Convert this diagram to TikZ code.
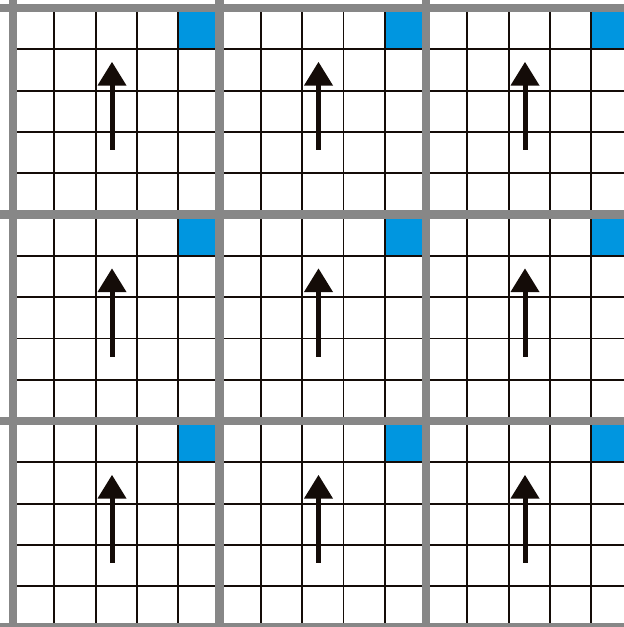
\documentclass[tikz,border=0pt]{standalone}
\definecolor{gridgray}{HTML}{878787}
\definecolor{cellblue}{HTML}{0096E0}
\definecolor{ink}{HTML}{140C08}
\tikzset{
  cellline/.style={draw=ink, line width=1.8pt},
  blockline/.style={draw=gridgray, line width=8.5pt},
  arrowink/.style={fill=ink},
  shaftline/.style={draw=ink, line width=5pt}
}
\begin{document}
\begin{tikzpicture}[x=1pt,y=-1pt]
\useasboundingbox (0,0) rectangle (624,627);
\clip (0,0) rectangle (624,627);
\fill[white] (0,0) rectangle (624,627);
\foreach \i in {0,1,2} {
  \foreach \j in {0,1,2} {
    \pgfmathsetmacro\ox{13+\i*206.5}
    \pgfmathsetmacro\oy{8+\j*206.5}
    \begin{scope}[shift={(\ox,\oy)}]
      \fill[cellblue] (165.2,0) rectangle (206.5,41.3);
      \foreach \k in {1,...,4} {
        \draw[cellline] (\k*41.3,0) -- (\k*41.3,206.5);
        \draw[cellline] (0,\k*41.3) -- (206.5,\k*41.3);
      }
      \draw[shaftline] (99,75) -- (99,142);
      \fill[arrowink] (99,54) -- (84.5,77.5) -- (113.5,77.5) -- cycle;
    \end{scope}
  }
}
\foreach \k in {0,...,3} {
  \draw[blockline] (13+\k*206.5,-20) -- (13+\k*206.5,700);
  \draw[blockline] (-20,8+\k*206.5) -- (700,8+\k*206.5);
}
\end{tikzpicture}
\end{document}
